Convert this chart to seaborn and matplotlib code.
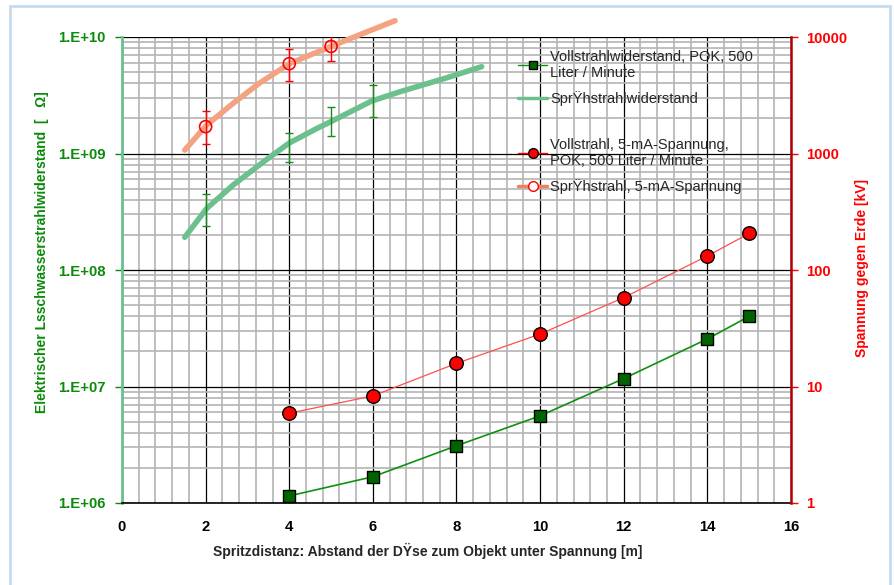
import numpy as np
import pandas as pd
import matplotlib
matplotlib.use("Agg")
import matplotlib.pyplot as plt
import matplotlib.ticker as mticker
from matplotlib.lines import Line2D
from matplotlib.patches import Rectangle
import seaborn as sns

# Vollstrahl (solid jet) resistance, Ohm
voll_x = [4, 6, 8, 10, 12, 14, 15]
voll_r = [1.15e6, 1.68e6, 3.1e6, 5.6e6, 1.17e7, 2.56e7, 4.0e7]

# Vollstrahl 5-mA voltage, kV
voll_kv = [5.9, 8.3, 15.8, 28.2, 58, 132, 206]

# Spruehstrahl (spray) resistance curve, Ohm
spray_x = [1.5, 2.03, 2.66, 3.46, 4.0, 4.66, 5.0, 5.97, 6.65, 7.85, 8.6]
spray_r = [1.91e8, 3.39e8, 5.37e8, 8.9e8, 1.23e9, 1.64e9, 1.88e9, 2.82e9, 3.39e9, 4.56e9, 5.56e9]

# spray resistance error bars
spray_err_x = [2, 4, 5, 6]
spray_err_lo = [2.4e8, 8.4e8, 1.41e9, 2.07e9]
spray_err_hi = [4.5e8, 1.51e9, 2.52e9, 3.87e9]

# Spruehstrahl 5-mA voltage curve, kV
spray_v_x = [1.5, 2.03, 2.66, 3.3, 4.02, 4.98, 5.77, 6.53]
spray_v = [1070, 1760, 2700, 4050, 5940, 8260, 10760, 13800]

# measured spray voltages with error bars, kV
spray_m_x = [2, 4, 5]
spray_m_v = [1700, 5900, 8300]
spray_m_lo = [1200, 4190, 6220]
spray_m_hi = [2330, 7840, 11100]

sns.set_style("white")
plt.rcParams["font.family"] = ["Liberation Sans", "DejaVu Sans"]

fig = plt.figure(figsize=(8.95, 5.85), dpi=100)
ax = fig.add_axes([122 / 895, 1 - 503 / 585, 669 / 895, 466 / 585])
ax2 = ax.twinx()

green_dark = "#006400"
green_light = "#6cc08e"
green_err = "#1a8a1a"
orange = "#f4a382"
red = "#ff0000"

# left axis: resistance
ax.set_xlim(0, 16)
ax.set_yscale("log")
ax.set_ylim(1e6, 1e10)

ax.set_xticks(np.arange(0, 17, 2))
ax.xaxis.set_minor_locator(mticker.MultipleLocator(0.4))
ax.yaxis.set_major_locator(mticker.LogLocator(base=10, numticks=10))
ax.yaxis.set_minor_locator(mticker.LogLocator(base=10, subs=np.arange(2, 10), numticks=50))
ax.yaxis.set_major_formatter(mticker.FuncFormatter(lambda v, p: "1.E+%02d" % round(np.log10(v))))
ax.yaxis.set_minor_formatter(mticker.NullFormatter())

ax.grid(which="minor", color="#b4b4b4", lw=1.2, zorder=0)
ax.grid(which="major", color="#000000", lw=0.9, zorder=0)
ax.set_axisbelow(True)

df_spray = pd.DataFrame({"x": spray_x, "r": spray_r})
sns.lineplot(data=df_spray, x="x", y="r", ax=ax, color=green_light, lw=4, zorder=3)
ax.lines[-1].set_clip_on(False)
ax.lines[-1].set_solid_joinstyle("round")

mid = [np.sqrt(a * b) for a, b in zip(spray_err_lo, spray_err_hi)]
ax.errorbar(spray_err_x, mid,
            yerr=[[m - a for m, a in zip(mid, spray_err_lo)],
                  [b - m for m, b in zip(mid, spray_err_hi)]],
            fmt="none", ecolor=green_err, elinewidth=1, capsize=3, capthick=1, zorder=4)

df_voll = pd.DataFrame({"x": voll_x, "r": voll_r})
sns.lineplot(data=df_voll, x="x", y="r", ax=ax, color="#109010", lw=1.2, zorder=4)
sns.scatterplot(data=df_voll, x="x", y="r", ax=ax, marker="s", s=70, color=green_dark,
                edgecolor="black", linewidth=1.0, zorder=5, clip_on=False)

# right axis: voltage
ax2.set_yscale("log")
ax2.set_ylim(1, 1e4)
ax2.yaxis.set_major_locator(mticker.LogLocator(base=10, numticks=10))
ax2.yaxis.set_minor_locator(mticker.NullLocator())
ax2.yaxis.set_major_formatter(mticker.FuncFormatter(lambda v, p: "%d" % round(v)))

df_sv = pd.DataFrame({"x": spray_v_x, "v": spray_v})
sns.lineplot(data=df_sv, x="x", y="v", ax=ax2, color=orange, lw=4, zorder=3)
ax2.lines[-1].set_clip_on(False)
ax2.lines[-1].set_solid_joinstyle("round")

ax2.errorbar(spray_m_x, spray_m_v,
             yerr=[[v - lo for v, lo in zip(spray_m_v, spray_m_lo)],
                   [hi - v for v, hi in zip(spray_m_v, spray_m_hi)]],
             fmt="none", ecolor=red, elinewidth=1, capsize=3, capthick=1, zorder=4)
df_sm = pd.DataFrame({"x": spray_m_x, "v": spray_m_v})
sns.scatterplot(data=df_sm, x="x", y="v", ax=ax2, marker="o", s=75, facecolor="none",
                edgecolor=red, linewidth=1.2, zorder=5, clip_on=False)

df_vv = pd.DataFrame({"x": voll_x, "v": voll_kv})
sns.lineplot(data=df_vv, x="x", y="v", ax=ax2, color="#ff5050", lw=0.9, zorder=4)
sns.scatterplot(data=df_vv, x="x", y="v", ax=ax2, marker="o", s=95, color=red,
                edgecolor="black", linewidth=1.0, zorder=5, clip_on=False)

# spines and ticks
for a in (ax, ax2):
    for s in a.spines.values():
        s.set_visible(False)
ax.spines["left"].set_visible(True)
ax.spines["left"].set_color(green_light)
ax.spines["left"].set_linewidth(2)
ax.spines["bottom"].set_visible(True)
ax.spines["bottom"].set_color("black")
ax.spines["bottom"].set_linewidth(1.2)
ax2.spines["right"].set_visible(True)
ax2.spines["right"].set_color("#b00000")
ax2.spines["right"].set_linewidth(1.8)

ax.tick_params(axis="y", which="major", colors="#0b8a0b", length=5, width=1, direction="out",
               labelsize=10.7, pad=7)
ax.tick_params(axis="y", which="minor", length=0)
ax.tick_params(axis="x", which="major", colors="black", length=4, width=1, direction="out",
               labelsize=10.7, pad=8)
ax.tick_params(axis="x", which="minor", length=0)
ax2.tick_params(axis="y", which="major", colors=red, length=5, width=1, direction="out",
                labelsize=10.7, pad=6)
for lbl in ax.get_yticklabels() + ax.get_xticklabels() + ax2.get_yticklabels():
    lbl.set_fontweight("bold")
for lbl in ax.get_yticklabels():
    lbl.set_color("#0b8a0b")
for lbl in ax.get_xticklabels():
    lbl.set_color("black")

ax.set_xlabel("Spritzdistanz: Abstand der DŸse zum Objekt unter Spannung [m]",
              fontsize=10, fontweight="bold")
ax.xaxis.set_label_coords((428 - 122) / 669, -(543 - 503) / 466)
ax.set_ylabel("Elektrischer Lsschwasserstrahlwiderstand  [   Ω]", fontsize=10,
              fontweight="bold", color="#0b8a0b")
ax.yaxis.set_label_coords(-(122 - 49) / 669, (503 - 252) / 466)
ax2.set_ylabel("Spannung gegen Erde [kV]", fontsize=10, fontweight="bold", color=red)
ax2.yaxis.set_label_coords((855 - 122) / 669, (503 - 268) / 466)

# legend (two blocks, as in the reference)
handles_a = [
    Line2D([], [], color="#109010", lw=1, marker="s", ms=6, mfc=green_dark, mec="black"),
    Line2D([], [], color=green_light, lw=2.5),
]
labels_a = ["Vollstrahlwiderstand, POK, 500\nLiter / Minute", "SprŸhstrahlwiderstand"]
handles_b = [
    Line2D([], [], color=red, lw=1, marker="o", ms=7, mfc=red, mec="black"),
    Line2D([], [], color="#f08060", lw=2.5, marker="o", ms=7, mfc="white", mec=red),
]
labels_b = ["Vollstrahl, 5-mA-Spannung,\nPOK, 500 Liter / Minute", "SprŸhstrahl, 5-mA-Spannung"]

leg_a = ax2.legend(handles_a, labels_a, loc="upper left",
                   bbox_to_anchor=((518 - 122) / 669, 1 - 13 / 466),
                   frameon=False, fontsize=10.5, handlelength=2.0, handletextpad=0.2,
                   labelspacing=0.75, borderaxespad=0, borderpad=0)
ax2.add_artist(leg_a)
leg_b = ax2.legend(handles_b, labels_b, loc="upper left",
                   bbox_to_anchor=((518 - 122) / 669, 1 - 101 / 466),
                   frameon=False, fontsize=10.5, handlelength=2.0, handletextpad=0.2,
                   labelspacing=0.75, borderaxespad=0, borderpad=0)
leg_a.set_zorder(10)
leg_b.set_zorder(10)

# outer light-blue frame
fig.patches.append(Rectangle((10 / 895, -0.05), 880 / 895, 1.05 - 6 / 585,
                             transform=fig.transFigure, fill=False,
                             edgecolor="#c6dcee", lw=2))

fig.savefig("out.png", dpi=100)
